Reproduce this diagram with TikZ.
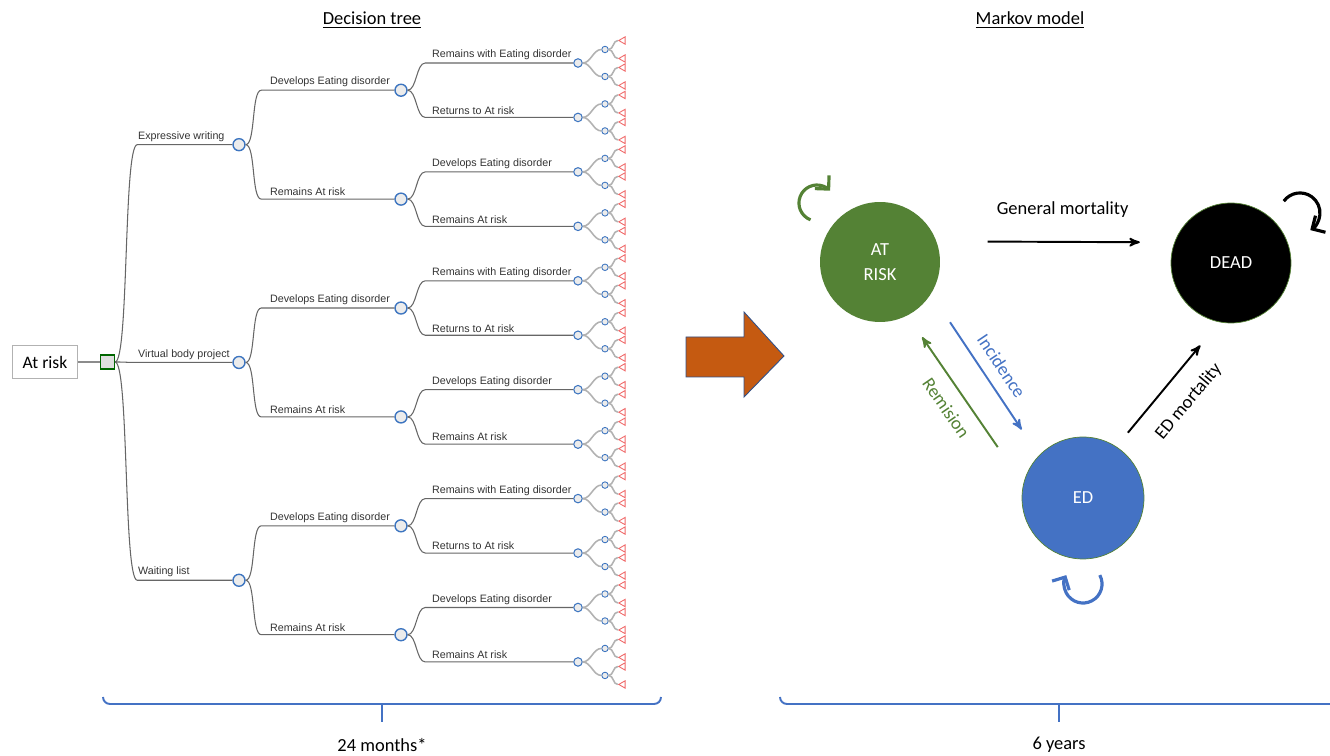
\documentclass[tikz,border=0pt]{standalone}
\usepackage{fontspec}
\setmainfont{Carlito}
\newfontfamily\treefont{Liberation Sans}
\usetikzlibrary{arrows,arrows.meta,positioning,shapes}
\definecolor{edblue}{HTML}{4472C4}
\definecolor{riskgreen}{HTML}{548235}
\definecolor{arrowbrown}{HTML}{C55A11}
\definecolor{chanceblue}{HTML}{3D75C0}
\definecolor{leafred}{HTML}{F06A6A}
\tikzset{
    %Define standard arrow tip
    >=stealth',
    %Define styles for the tree
    rootbox/.style={
             rectangle,
             draw=gray!60, thin,
             minimum width=1.3cm, minimum height=0.66cm,
             font=\fontsize{10}{12}\selectfont},
    decbox/.style={
             rectangle,
             draw=green!40!black, line width=0.7pt,
             fill=gray!25,
             minimum size=0.28cm, inner sep=0pt},
    bigchance/.style={
             circle,
             draw=chanceblue, line width=0.8pt,
             fill=gray!15,
             minimum size=0.24cm, inner sep=0pt},
    midchance/.style={
             circle,
             draw=chanceblue, line width=0.6pt,
             fill=gray!15,
             minimum size=0.17cm, inner sep=0pt},
    smallchance/.style={
             circle,
             draw=chanceblue, line width=0.5pt,
             fill=gray!15,
             minimum size=0.13cm, inner sep=0pt},
    leaf/.style={
             regular polygon, regular polygon sides=3,
             shape border rotate=90,
             draw=leafred, line width=0.5pt, fill=white,
             minimum size=0.17cm, inner sep=0pt},
    branchlabel/.style={
             anchor=south west, inner sep=1pt,
             text=black!80,
             font=\treefont\fontsize{6.1}{7}\selectfont},
    % Define edge styles
    treeedge/.style={
            draw=black!60,
            line width=0.6pt},
    twigedge/.style={
            draw=black!30,
            line width=0.9pt},
    %Define styles for the Markov model
    statenode/.style={
             circle,
             minimum size=2.4cm, inner sep=0pt,
             text=white, align=center,
             font=\fontsize{10.5}{14.5}\selectfont},
    markovarrow/.style={
            ->,
            line width=1.1pt,
            font=\fontsize{10.5}{12}\selectfont},
    looparrow/.style={
            -{Straight Barb[length=5.5pt,width=11pt]},
            line width=1.8pt},
    bracket/.style={
            draw=edblue,
            line width=1.1pt},
    plain/.style={
             font=\fontsize{10.5}{12}\selectfont}
}

\begin{document}
\begin{tikzpicture}[x=0.02cm, y=-0.02cm]
 \useasboundingbox (0,0) rectangle (1330,756);
 % titles
 \node[plain] (treetitle) at (372,20) {\underline{Decision tree}};
 \node[plain] (markovtitle) at (1030,20) {\underline{Markov model}};

 % decision tree
 \node[rootbox] (root) at (45,362) {At risk};
 \node[decbox, right=0.44cm of root] (dec) {};
 \draw[treeedge, line width=1.3pt, draw=black!45] (root) -- (dec);
 \foreach \i/\lbl in {1/Expressive writing, 2/Virtual body project, 3/Waiting list} {
   \pgfmathsetmacro\ya{63+54.45*(4*\i-2.5)}
   \node[bigchance] (a\i) at (239,\ya) {};
   \node[branchlabel] (la\i) at (136,\ya-1) {\lbl};
   \draw[treeedge] (a\i.west) -- ++(-95,0)
       to[out=180, in=0, out distance=0.28cm, in distance=0.28cm] (dec.east);
 }
 \foreach \j in {1,...,6} {
   \pgfmathsetmacro\yb{63+54.45*(2*\j-1.5)}
   \pgfmathtruncatemacro\i{(\j+1)/2}
   \pgfmathtruncatemacro\kind{mod(\j,2)}
   \ifnum\kind=1 \def\lbl{Develops Eating disorder}\else\def\lbl{Remains At risk}\fi
   \node[bigchance] (b\j) at (401,\yb) {};
   \node[branchlabel] (lb\j) at (268,\yb-1) {\lbl};
   \draw[treeedge] (b\j.west) -- ++(-133,0)
       to[out=180, in=0, out distance=0.2cm, in distance=0.2cm] (a\i.east);
 }
 \foreach \k in {1,...,12} {
   \pgfmathsetmacro\yc{63+54.45*(\k-1)}
   \pgfmathtruncatemacro\j{(\k+1)/2}
   \pgfmathtruncatemacro\kind{mod(\k,4)}
   \ifcase\kind \def\lbl{Remains At risk}\or \def\lbl{Remains with Eating disorder}\or
     \def\lbl{Returns to At risk}\or \def\lbl{Develops Eating disorder}\fi
   \node[midchance] (c\k) at (578,\yc) {};
   \node[branchlabel] (lc\k) at (430,\yc-1) {\lbl};
   \draw[treeedge] (c\k.west) -- ++(-148,0)
       to[out=180, in=0, out distance=0.18cm, in distance=0.18cm] (b\j.east);
   % outcome twigs
   \foreach \s [count=\m] in {-1,1} {
     \pgfmathtruncatemacro\dn{2*\k-2+\m}
     \pgfmathsetmacro\yd{\yc+13.5*(\s)}
     \node[smallchance] (d\dn) at (605,\yd) {};
     \draw[twigedge] (c\k.east) to[out=0, in=180, out distance=0.16cm, in distance=0.16cm] (d\dn.west);
     \foreach \t [count=\n] in {-1,1} {
       \pgfmathtruncatemacro\en{2*\dn-2+\n}
       \node[leaf] (e\en) at (623,{\yd+9*(\t)}) {};
       \draw[twigedge] (d\dn.east) to[out=0, in=180, out distance=0.1cm, in distance=0.1cm] (e\en.west);
     }
   }
 }

 % big arrow between the models
 \draw[fill=arrowbrown, draw=edblue!70!black, line width=0.5pt]
   (686,337) -- (744,337) -- (744,312) -- (784,356) -- (744,397) -- (744,377) -- (686,377) -- cycle;

 % Markov model
 \node[statenode, fill=riskgreen] (atrisk) at (880,262) {AT\\RISK};
 \node[statenode, fill=black, draw=riskgreen, thin] (dead) at (1231,263) {DEAD};
 \node[statenode, fill=edblue, draw=riskgreen, thin, minimum size=2.44cm] (ed) at (1083,498) {ED};

 \draw[markovarrow, shorten <=1.02cm, shorten >=0.69cm]
   (atrisk.20) -- node[pos=0.53, above=10pt] {General mortality} (dead.160);
 \draw[markovarrow, edblue, shorten <=0.68cm, shorten >=0.62cm]
   (atrisk.-32) -- node[pos=0.51, sloped, above=3pt] {Incidence} (ed.136);
 \draw[markovarrow, riskgreen, shorten <=0.9cm, shorten >=0.52cm]
   (ed.167) -- node[pos=0.52, sloped, below=4pt] {Remision} (atrisk.-63);
 \draw[markovarrow, shorten <=0.36cm, shorten >=0.6cm]
   (ed.57) -- node[pos=0.5, sloped, below=7pt] {ED mortality} (dead.-101);

 % self loops
 \coordinate (riskloop) at (810.5,219.8);
 \coordinate (edloop) at (1099.8,575.1);
 \coordinate (deadloop) at (1283.8,201.2);
 \draw[looparrow, riskgreen] (riskloop) arc[start angle=111, end angle=317, radius=18];
 \draw[looparrow, edblue] (edloop) arc[start angle=-28, end angle=208, radius=19];
 \draw[looparrow, black] (deadloop) arc[start angle=-144, end angle=59, radius=20];

 % time horizons
 \draw[bracket] (103,697) to[out=-90, in=180] (110,704) -- (654,704) to[out=0, in=-90] (661,697);
 \draw[bracket] (382,704) -- (382,722);
 \draw[bracket] (780,697) to[out=-90, in=180] (787,704) -- (1330,704);
 \draw[bracket] (1059,704) -- (1059,722);
 \node[plain] (treetime) at (382,745) {24 months*};
 \node[plain] (markovtime) at (1059,745) {6 years};
\end{tikzpicture}
\end{document}
